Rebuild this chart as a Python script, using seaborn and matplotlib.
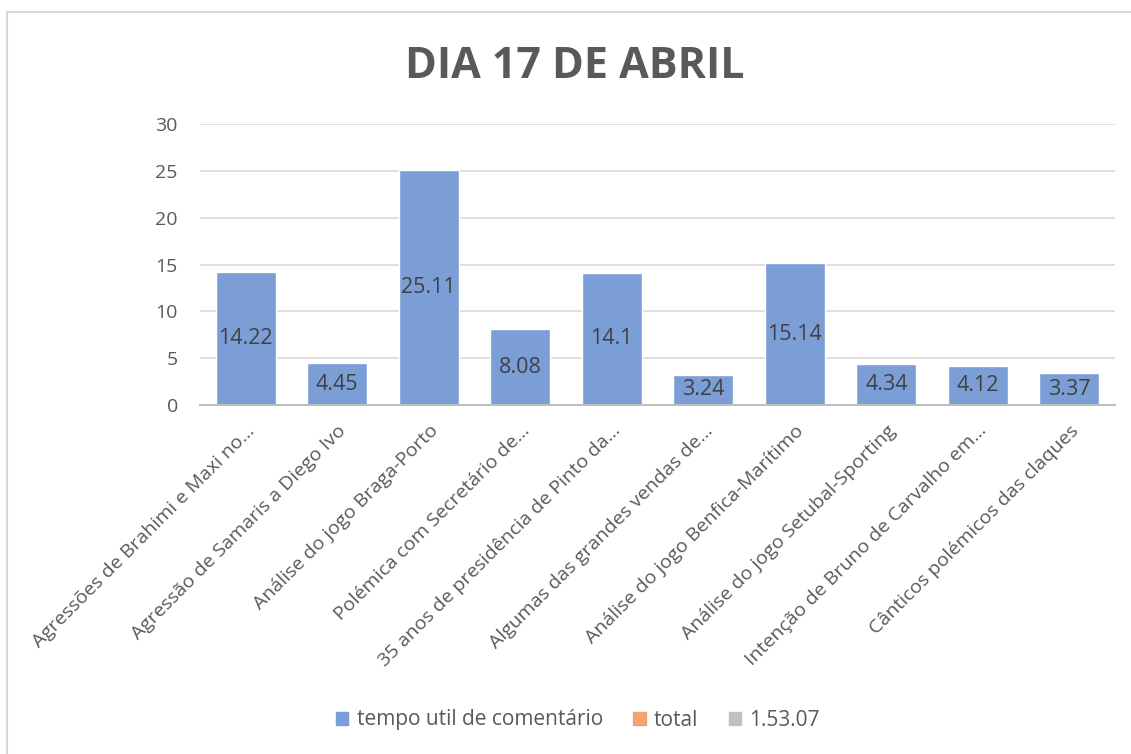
import matplotlib
matplotlib.use("Agg")
import matplotlib.pyplot as plt
import matplotlib.patches as mpatches
from matplotlib.lines import Line2D
import seaborn as sns
import pandas as pd

categories = [
    "Agressões de Brahimi e Maxi no...",
    "Agressão de Samaris a Diego Ivo",
    "Análise do jogo Braga-Porto",
    "Polémica com Secretário de...",
    "35 anos de presidência de Pinto da...",
    "Algumas das grandes vendas de...",
    "Análise do jogo Benfica-Marítimo",
    "Análise do jogo Setubal-Sporting",
    "Intenção de Bruno de Carvalho em...",
    "Cânticos polémicos das claques",
]
values = [14.22, 4.45, 25.11, 8.08, 14.1, 3.24, 15.14, 4.34, 4.12, 3.37]
value_labels = ["14.22", "4.45", "25.11", "8.08", "14.1", "3.24", "15.14", "4.34", "4.12", "3.37"]
legend_labels = ["tempo util de comentário", "total", "1.53.07"]
title = "DIA 17 DE ABRIL"
yticks = [0, 5, 10, 15, 20, 25, 30]

sns.set_style("white")
plt.rcParams['font.family'] = ['Open Sans', 'DejaVu Sans']

blue = "#7B9ED6"
orange = "#F1A46E"
grey = "#C0C0C0"
text_col = "#595959"

df = pd.DataFrame({"cat": categories, "val": values})

fig = plt.figure(figsize=(11.31, 7.54), dpi=100)
ax = fig.add_axes([200/1131, 1-405/754, 915/1131, (405-124)/754])

sns.barplot(data=df, x="cat", y="val", color=blue, width=0.66, ax=ax,
            saturation=1, zorder=3)

ax.set_ylim(0, 30)
ax.set_yticks(yticks)
ax.set_xlim(-0.5, len(categories) - 0.5)
ax.yaxis.grid(True, color="#D9D9D9", linewidth=1.2, zorder=0)
ax.set_axisbelow(True)
for s in ["top", "right", "left"]:
    ax.spines[s].set_visible(False)
ax.spines["bottom"].set_color("#BFBFBF")
ax.spines["bottom"].set_linewidth(1.5)
ax.spines["bottom"].set_zorder(4)
ax.set_xlabel("")
ax.set_ylabel("")
ax.tick_params(axis="both", length=0, colors=text_col, labelsize=14)
ax.tick_params(axis="y", pad=16)
ax.set_xticks(range(len(categories)))
ax.set_xticklabels(categories, rotation=45, ha="right", rotation_mode="anchor",
                   color=text_col, fontsize=14)
ax.tick_params(axis="x", pad=12)

for i, (v, lab) in enumerate(zip(values, value_labels)):
    ax.text(i, v / 2, lab, ha="center", va="center", fontsize=15.5,
            color="#404040", zorder=5)

fig.text(575/1131, 1-66/754, title, ha="center", va="center",
         fontsize=31, fontweight="bold", color=text_col)

handles = [mpatches.Patch(color=c, label=l) for c, l in zip([blue, orange, grey], legend_labels)]
leg = fig.legend(handles=handles, loc="center", bbox_to_anchor=(578/1131, 1-720/754),
                 ncol=3, frameon=False, fontsize=15, handlelength=0.6, handleheight=0.6,
                 handletextpad=0.4, columnspacing=1.45, labelcolor=text_col)

# outer chart border (left and top visible)
fig.add_artist(Line2D([7/1131, 7/1131], [0, 1-12/754], transform=fig.transFigure,
                      color="#D9D9D9", linewidth=1.5))
fig.add_artist(Line2D([7/1131, 1], [1-12/754, 1-12/754], transform=fig.transFigure,
                      color="#D9D9D9", linewidth=1.5))

fig.savefig("out.png", dpi=100, facecolor="white")
